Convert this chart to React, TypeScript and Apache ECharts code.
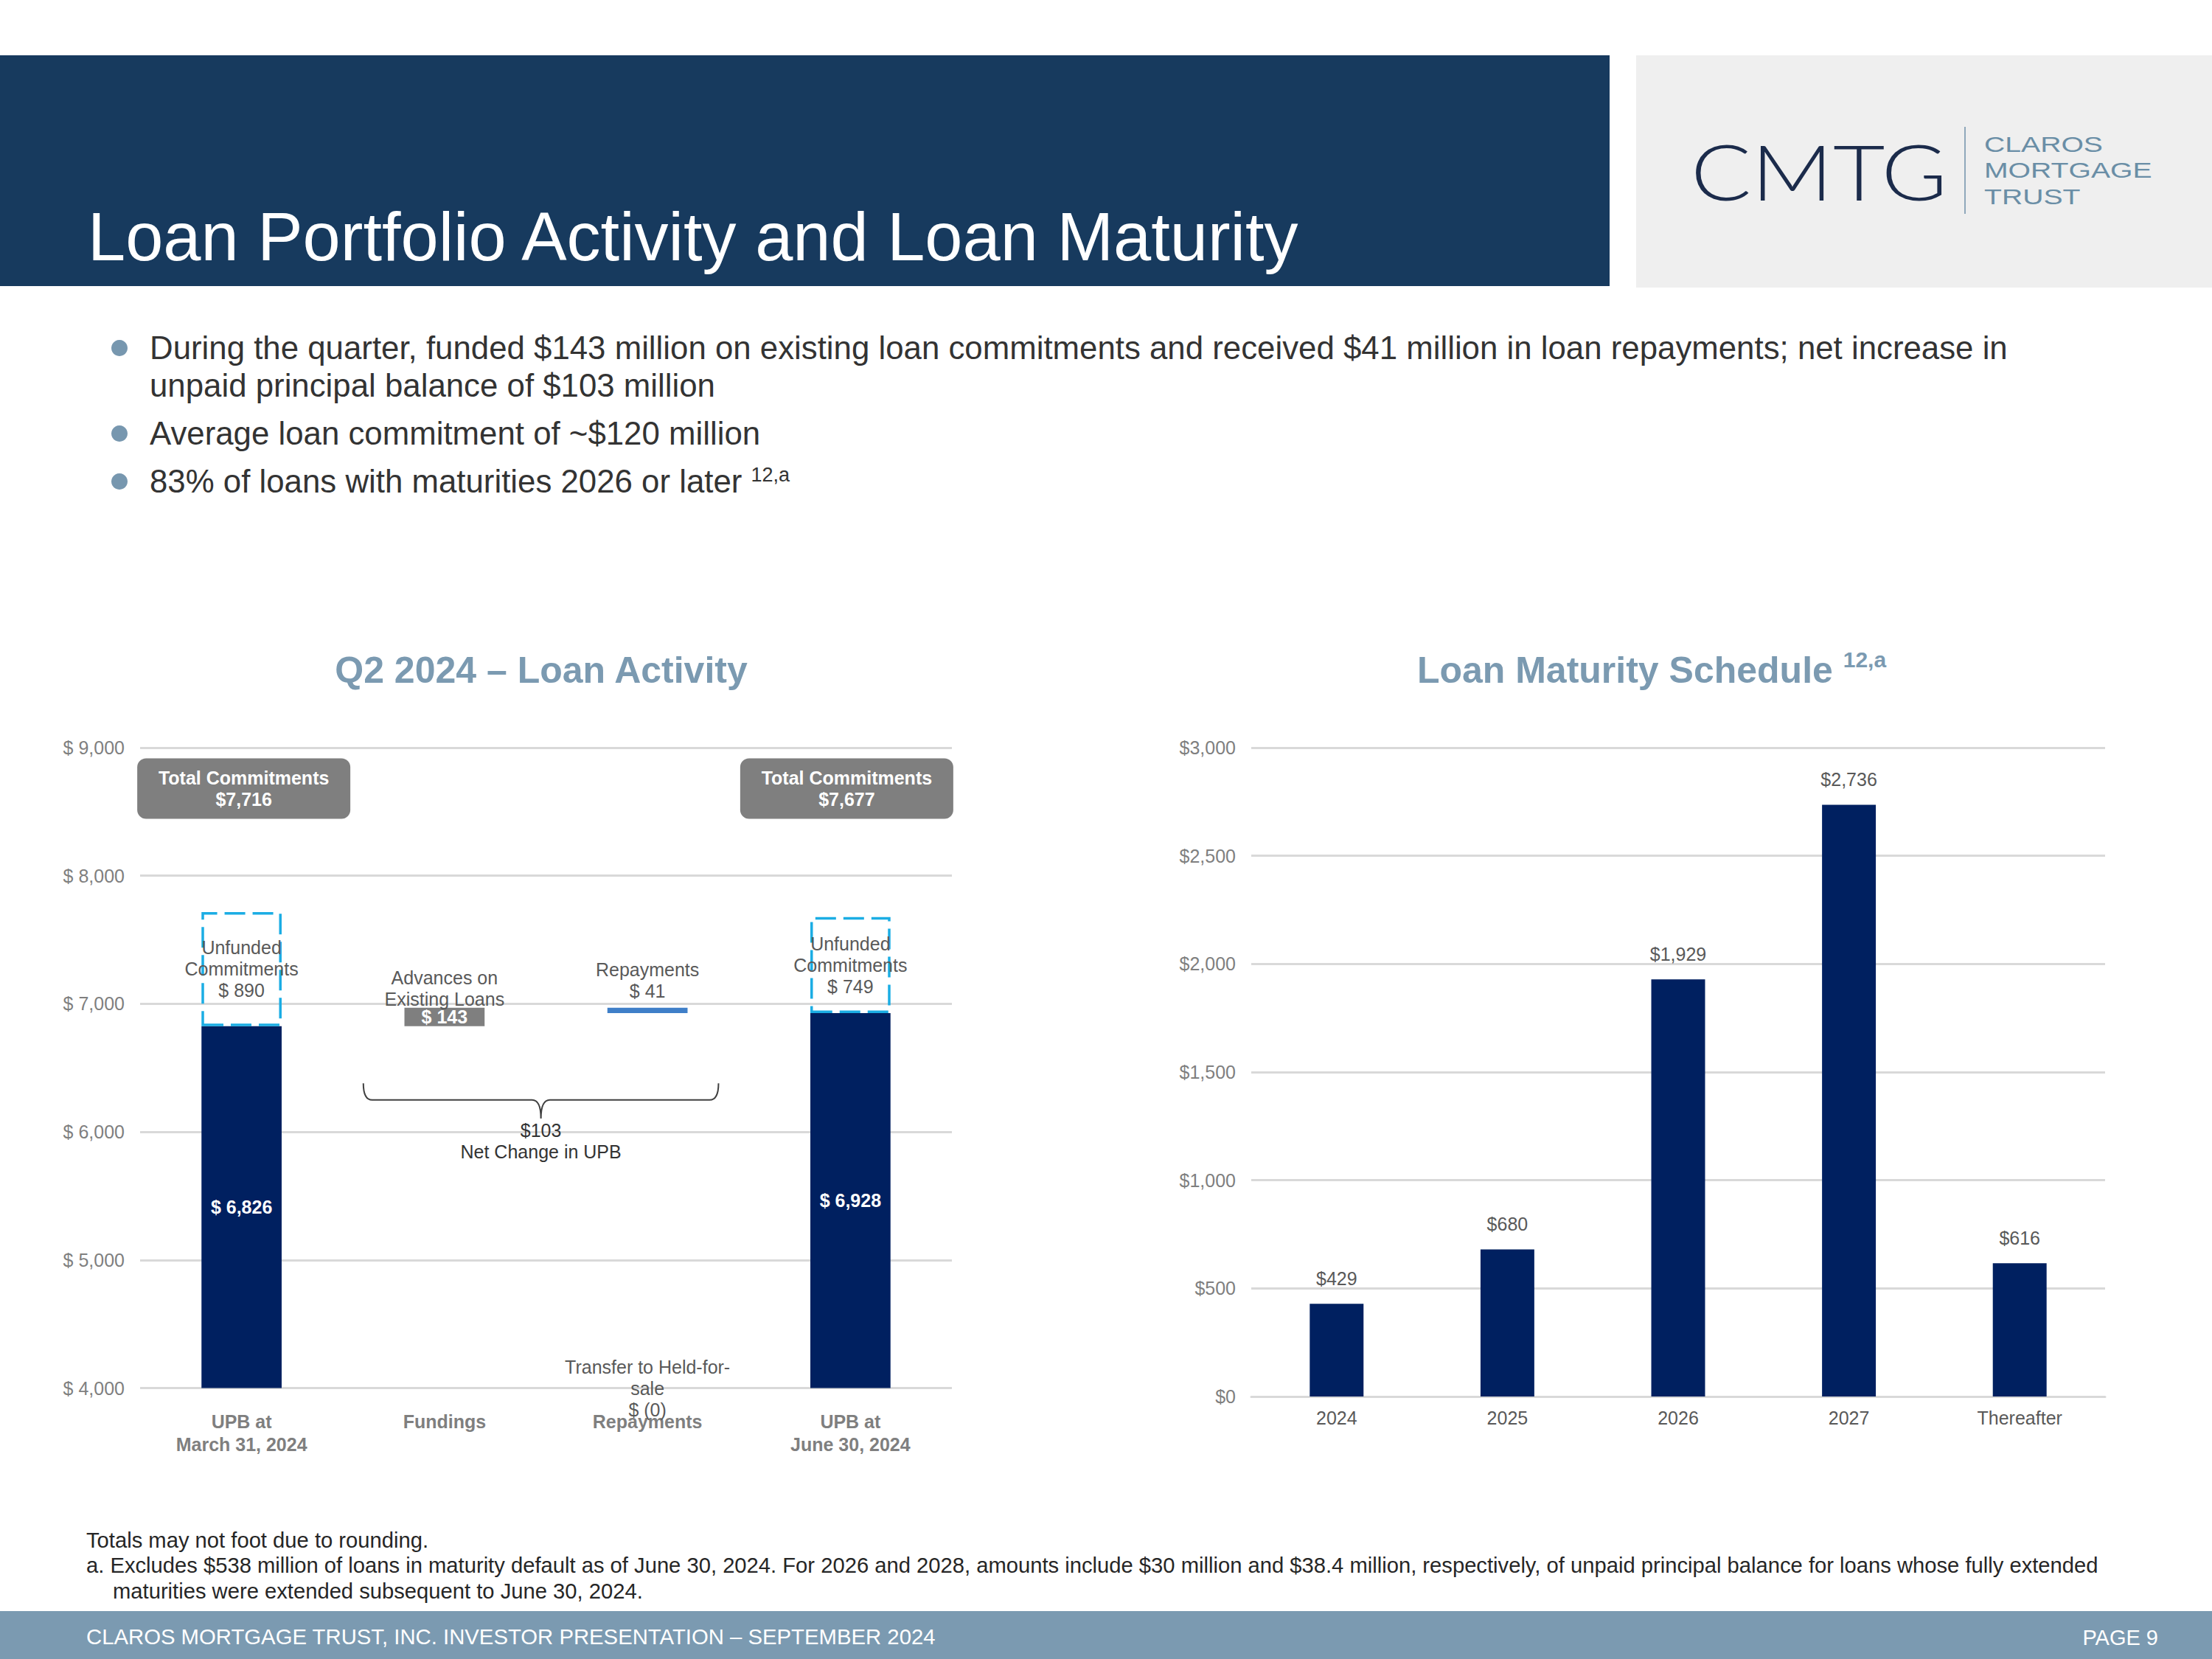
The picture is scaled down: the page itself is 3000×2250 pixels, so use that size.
import React, { useEffect, useRef } from 'react';
import * as echarts from 'echarts';

const FONT = '"Liberation Sans", Arial, Helvetica, sans-serif';

// ---------- Q2 2024 loan activity (waterfall) ----------
const activityCategories = ['UPB at\nMarch 31, 2024', 'Fundings', 'Repayments', 'UPB at\nJune 30, 2024'];
const upbMarch = 6826;
const upbJune = 6928;
const fundings = 143;
const repayments = 41;
const transferHFS = 0;
const unfundedMarch = 890;
const unfundedJune = 749;
const totalCommitMarch = 7716;
const totalCommitJune = 7677;
const netChangeUPB = 103;
const activityAxisMin = 4000;
const activityAxisMax = 9000;
const activityAxisStep = 1000;

// ---------- Loan maturity schedule ----------
const maturityCategories = ['2024', '2025', '2026', '2027', 'Thereafter'];
const maturityValues = [429, 680, 1929, 2736, 616];
const maturityAxisMin = 0;
const maturityAxisMax = 3000;
const maturityAxisStep = 500;

// ---------- Slide texts ----------
const slideTitle = 'Loan Portfolio Activity and Loan Maturity';
const bulletLines = [
  'During the quarter, funded $143 million on existing loan commitments and received $41 million in loan repayments; net increase in',
  'unpaid principal balance of $103 million',
  'Average loan commitment of ~$120 million',
  '83% of loans with maturities 2026 or later {sup|12,a}',
];
const bulletHasDot = [true, false, true, true];
const footnotes = [
  'Totals may not foot due to rounding.',
  'a. Excludes $538 million of loans in maturity default as of June 30, 2024. For 2026 and 2028, amounts include $30 million and $38.4 million, respectively, of unpaid principal balance for loans whose fully extended',
  'maturities were extended subsequent to June 30, 2024.',
];
const footerText = 'CLAROS MORTGAGE TRUST, INC. INVESTOR PRESENTATION \u2013 SEPTEMBER 2024';
const pageText = 'PAGE 9';

// ---------- styling / layout constants ----------
const NAVY = '#002060';
const HEADER = '#173A5E';
const STEEL = '#7B9AB1';
const GRID = '#D9D9D9';
const AXIS_TXT = '#7F7F7F';
const LABEL_TXT = '#595959';
const totalBoxLevel = 8680;
const braceTop = 6380;
const braceMid = 6250;
const braceTip = 6105;

const fmt = (v: number) => v.toLocaleString('en-US');

function buildOption(): any {
  const afterFundings = upbMarch + fundings;
  const repayBase = afterFundings - repayments;
  const barW = '39.5%';

  const bulletY = [471, 522, 587, 652];
  const graphic: any[] = [
    { type: 'rect', shape: { x: 0, y: 75, width: 2183, height: 313 }, style: { fill: HEADER } },
    { type: 'rect', shape: { x: 2219, y: 75, width: 781, height: 315 }, style: { fill: '#EFEFEF' } },
    {
      type: 'text', x: 119, y: 321,
      style: { text: slideTitle, fill: '#FFFFFF', fontSize: 92, fontFamily: FONT, verticalAlign: 'middle', align: 'left' },
    },
    {
      type: 'text', x: 2293, y: 231, scaleX: 1.16,
      style: { text: 'CMTG', fill: '#1B2B4B', fontSize: 105, fontFamily: 'Lato, ' + FONT, fontWeight: 300, verticalAlign: 'middle', align: 'left' },
    },
    { type: 'line', shape: { x1: 2665, y1: 172, x2: 2665, y2: 290 }, style: { stroke: '#8FA8BB', lineWidth: 2 } },
    {
      type: 'text', x: 2691, y: 231, scaleX: 1.35,
      style: { text: 'CLAROS\nMORTGAGE\nTRUST', fill: '#6A8EA6', fontSize: 29, lineHeight: 35.5, fontFamily: FONT, verticalAlign: 'middle', align: 'left' },
    },
    // chart titles
    {
      type: 'text', x: 734, y: 909,
      style: { text: 'Q2 2024 \u2013 Loan Activity', fill: STEEL, fontSize: 50, fontWeight: 'bold', fontFamily: FONT, verticalAlign: 'middle', align: 'center' },
    },
    {
      type: 'text', x: 2240, y: 909,
      style: {
        text: '{t|Loan Maturity Schedule }{sup|12,a}', align: 'center', verticalAlign: 'middle',
        rich: {
          t: { fill: STEEL, fontSize: 50, fontWeight: 'bold', fontFamily: FONT, lineHeight: 60 },
          sup: { fill: STEEL, fontSize: 30, fontWeight: 'bold', fontFamily: FONT, lineHeight: 40, verticalAlign: 'top' },
        },
      },
    },
    // footer
    { type: 'rect', shape: { x: 0, y: 2185, width: 3000, height: 65 }, style: { fill: STEEL } },
    {
      type: 'text', x: 117, y: 2219,
      style: { text: footerText, fill: '#FFFFFF', fontSize: 29.3, fontFamily: FONT, verticalAlign: 'middle', align: 'left' },
    },
    {
      type: 'text', x: 2927, y: 2221,
      style: { text: pageText, fill: '#FFFFFF', fontSize: 29, fontFamily: FONT, verticalAlign: 'middle', align: 'right' },
    },
  ];

  bulletLines.forEach((line, i) => {
    if (bulletHasDot[i]) {
      graphic.push({ type: 'circle', shape: { cx: 162, cy: bulletY[i] + 1, r: 11 }, style: { fill: '#7797AF' } });
    }
    graphic.push({
      type: 'text', x: 203, y: bulletY[i],
      style: {
        text: line, align: 'left', verticalAlign: 'middle',
        fill: '#333333', fontSize: 43.8, fontFamily: FONT,
        rich: {
          sup: { fill: '#333333', fontSize: 27, fontFamily: FONT, lineHeight: 34, verticalAlign: 'top' },
        },
      },
    });
  });

  const footY = [2089, 2123, 2158];
  const footX = [117, 117, 153];
  footnotes.forEach((line, i) => {
    graphic.push({
      type: 'text', x: footX[i], y: footY[i],
      style: { text: line, fill: '#262626', fontSize: 29.2, fontFamily: FONT, verticalAlign: 'middle', align: 'left' },
    });
  });

  const labelBase = { fontFamily: FONT, fontSize: 25, lineHeight: 29 };

  const totalBoxLabel = {
    show: true,
    position: 'inside',
    backgroundColor: '#7F7F7F',
    borderRadius: 12,
    padding: [12, 0],
    width: 289,
    align: 'center',
    color: '#FFFFFF',
    fontWeight: 'bold',
    fontFamily: FONT,
    fontSize: 25,
    lineHeight: 29,
    opacity: 1,
  };

  return {
    animation: false,
    backgroundColor: '#FFFFFF',
    textStyle: { fontFamily: FONT },
    graphic,
    grid: [
      { left: 190, top: 1014, width: 1101, height: 868.6, containLabel: false },
      { left: 1697, top: 1014, width: 1158, height: 880, containLabel: false },
    ],
    xAxis: [
      {
        type: 'category', gridIndex: 0, data: activityCategories,
        axisLine: { show: false }, axisTick: { show: false },
        axisLabel: { interval: 0, color: AXIS_TXT, fontWeight: 'bold', fontSize: 25, lineHeight: 31, margin: 30, fontFamily: FONT },
      },
      {
        type: 'category', gridIndex: 1, data: maturityCategories,
        axisLine: { show: true, lineStyle: { color: GRID, width: 3 } }, axisTick: { show: false },
        axisLabel: { interval: 0, color: LABEL_TXT, fontSize: 25, margin: 16, fontFamily: FONT },
      },
    ],
    yAxis: [
      {
        type: 'value', gridIndex: 0, min: activityAxisMin, max: activityAxisMax, interval: activityAxisStep,
        axisLine: { show: false }, axisTick: { show: false },
        splitLine: { lineStyle: { color: GRID, width: 3 } },
        axisLabel: { color: AXIS_TXT, fontSize: 25, margin: 21, fontFamily: FONT, formatter: (v: number) => '$ ' + fmt(v) },
      },
      {
        type: 'value', gridIndex: 1, min: maturityAxisMin, max: maturityAxisMax, interval: maturityAxisStep,
        axisLine: { show: false }, axisTick: { show: false },
        splitLine: { lineStyle: { color: GRID, width: 3 } },
        axisLabel: { color: AXIS_TXT, fontSize: 25, margin: 21, fontFamily: FONT, formatter: (v: number) => '$' + fmt(v) },
      },
    ],
    series: [
      {
        name: 'base', type: 'bar', stack: 'wf', xAxisIndex: 0, yAxisIndex: 0, barWidth: barW, silent: true,
        itemStyle: { color: 'rgba(0,0,0,0)' },
        data: [activityAxisMin, upbMarch, repayBase, activityAxisMin],
      },
      {
        name: 'UPB', type: 'bar', stack: 'wf', xAxisIndex: 0, yAxisIndex: 0, barWidth: barW,
        itemStyle: { color: NAVY },
        data: [upbMarch - activityAxisMin, '-', '-', upbJune - activityAxisMin],
        label: {
          show: true, position: 'inside', color: '#FFFFFF', fontWeight: 'bold', ...labelBase,
          formatter: (p: any) => '$ ' + fmt(p.dataIndex === 0 ? upbMarch : upbJune),
        },
      },
      {
        name: 'Fundings', type: 'bar', stack: 'wf', xAxisIndex: 0, yAxisIndex: 0, barWidth: barW,
        itemStyle: { color: '#7F7F7F' },
        data: ['-', fundings, '-', '-'],
        label: { show: true, position: 'inside', color: '#FFFFFF', fontWeight: 'bold', ...labelBase, formatter: () => '$ ' + fmt(fundings) },
      },
      {
        name: 'Repayments', type: 'bar', stack: 'wf', xAxisIndex: 0, yAxisIndex: 0, barWidth: barW,
        itemStyle: { color: '#3F7FC8' },
        data: ['-', '-', repayments, '-'],
      },
      {
        name: 'Unfunded', type: 'bar', stack: 'wf', xAxisIndex: 0, yAxisIndex: 0, barWidth: barW,
        itemStyle: { color: 'rgba(0,0,0,0)', borderColor: '#1BADE4', borderWidth: 3.5, borderType: [28, 10] },
        data: [unfundedMarch, '-', '-', unfundedJune],
        label: {
          show: true, position: 'inside', color: LABEL_TXT, ...labelBase,
          formatter: (p: any) => 'Unfunded\nCommitments\n$ ' + fmt(p.dataIndex === 0 ? unfundedMarch : unfundedJune),
        },
      },
      {
        name: 'annotations', type: 'scatter', xAxisIndex: 0, yAxisIndex: 0, symbolSize: 1, silent: true, clip: false,
        itemStyle: { color: 'rgba(0,0,0,0)', opacity: 1 },
        label: { show: true, color: LABEL_TXT, opacity: 1, ...labelBase },
        data: [
          { value: [1, afterFundings], label: { position: 'top', distance: -3, formatter: 'Advances on\nExisting Loans' } },
          { value: [2, afterFundings], label: { position: 'top', distance: 8, formatter: 'Repayments\n$ ' + fmt(repayments) } },
          { value: [2, activityAxisMin], label: { position: 'inside', formatter: 'Transfer to Held-for-\nsale\n$ (' + fmt(transferHFS) + ')' } },
          { value: [0, totalBoxLevel], label: { ...totalBoxLabel, offset: [3, 0], formatter: 'Total Commitments\n$' + fmt(totalCommitMarch) } },
          { value: [3, totalBoxLevel], label: { ...totalBoxLabel, offset: [-5, 0], formatter: 'Total Commitments\n$' + fmt(totalCommitJune) } },
        ],
      },
      {
        name: 'brace', type: 'custom', xAxisIndex: 0, yAxisIndex: 0, silent: true, z: 5,
        data: [[1, braceTop]],
        renderItem: (_params: any, api: any) => {
          const band = api.size([1, 0])[0];
          const l = api.coord([1, braceTop]);
          const r = api.coord([2, braceTop]);
          const yTop = l[1];
          const yMid = api.coord([1, braceMid])[1];
          const yTip = api.coord([1, braceTip])[1];
          const x1 = l[0] - 0.4 * band;
          const x2 = r[0] + 0.35 * band;
          const xc = (x1 + x2) / 2;
          const rr = 12;
          const d =
            `M${x1} ${yTop} Q${x1} ${yMid} ${x1 + rr} ${yMid} L${xc - rr} ${yMid} ` +
            `Q${xc} ${yMid} ${xc} ${yTip} Q${xc} ${yMid} ${xc + rr} ${yMid} ` +
            `L${x2 - rr} ${yMid} Q${x2} ${yMid} ${x2} ${yTop}`;
          return {
            type: 'group',
            children: [
              { type: 'path', shape: { pathData: d }, style: { fill: 'none', stroke: '#404040', lineWidth: 2 } },
              {
                type: 'text',
                style: {
                  text: '$' + fmt(netChangeUPB) + '\nNet Change in UPB', x: xc, y: yTip + 2,
                  align: 'center', verticalAlign: 'top', fontSize: 25, lineHeight: 29, fontFamily: FONT, fill: '#333333',
                },
              },
            ],
          };
        },
      },
      {
        name: 'Maturity', type: 'bar', xAxisIndex: 1, yAxisIndex: 1, barWidth: '31.5%',
        itemStyle: { color: NAVY },
        data: maturityValues,
        label: {
          show: true, position: 'top', distance: 22, color: LABEL_TXT, fontSize: 25, fontFamily: FONT,
          formatter: (p: any) => '$' + fmt(p.value),
        },
      },
    ],
  };
}

export default function App() {
  const ref = useRef<HTMLDivElement>(null);
  useEffect(() => {
    document.body.style.margin = '0';
    if (!ref.current) return;
    const chart = echarts.init(ref.current, null, { renderer: 'svg' });
    chart.setOption(buildOption());
    return () => chart.dispose();
  }, []);
  return <div ref={ref} style={{ position: 'absolute', left: 0, top: 0, width: 3000, height: 2250, background: '#fff' }} />;
}
